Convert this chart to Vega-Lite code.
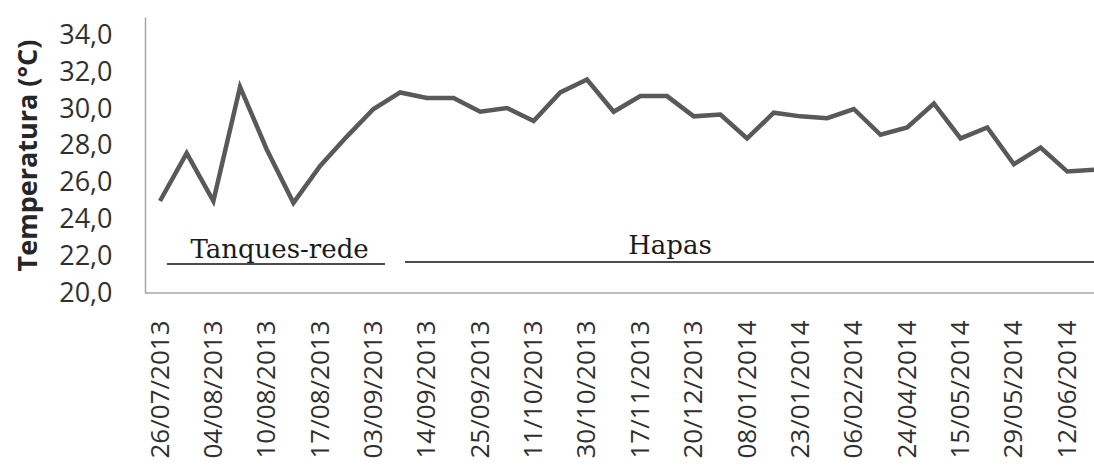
{
  "$schema": "https://vega.github.io/schema/vega-lite/v6.json",
  "width": 949,
  "height": 276,
  "autosize": "none",
  "padding": {"left": 145, "top": 17, "right": 0, "bottom": 175},
  "background": "white",
  "config": {
    "view": {"stroke": null},
    "font": "Open Sans",
    "locale": {"number": {"decimal": ",", "thousands": ".", "grouping": [3], "currency": ["", ""]}},
    "axis": {"labelOverlap": false}
  },
  "resolve": {"scale": {"x": "independent"}},
  "layer": [
    {
      "data": {
        "values": [
          {"data": "26/07/2013", "temp": 25.0},
          {"data": "30/07/2013", "temp": 27.6},
          {"data": "04/08/2013", "temp": 25.0},
          {"data": "07/08/2013", "temp": 31.2},
          {"data": "10/08/2013", "temp": 27.8},
          {"data": "14/08/2013", "temp": 24.9},
          {"data": "17/08/2013", "temp": 26.9},
          {"data": "24/08/2013", "temp": 28.5},
          {"data": "03/09/2013", "temp": 30.0},
          {"data": "09/09/2013", "temp": 30.9},
          {"data": "14/09/2013", "temp": 30.6},
          {"data": "20/09/2013", "temp": 30.6},
          {"data": "25/09/2013", "temp": 29.85},
          {"data": "04/10/2013", "temp": 30.05},
          {"data": "11/10/2013", "temp": 29.35},
          {"data": "21/10/2013", "temp": 30.9},
          {"data": "30/10/2013", "temp": 31.6},
          {"data": "08/11/2013", "temp": 29.85},
          {"data": "17/11/2013", "temp": 30.7},
          {"data": "04/12/2013", "temp": 30.7},
          {"data": "20/12/2013", "temp": 29.6},
          {"data": "30/12/2013", "temp": 29.7},
          {"data": "08/01/2014", "temp": 28.4},
          {"data": "16/01/2014", "temp": 29.8},
          {"data": "23/01/2014", "temp": 29.6},
          {"data": "30/01/2014", "temp": 29.5},
          {"data": "06/02/2014", "temp": 30.0},
          {"data": "20/02/2014", "temp": 28.6},
          {"data": "24/04/2014", "temp": 29.0},
          {"data": "08/05/2014", "temp": 30.3},
          {"data": "15/05/2014", "temp": 28.4},
          {"data": "22/05/2014", "temp": 29.0},
          {"data": "29/05/2014", "temp": 27.0},
          {"data": "05/06/2014", "temp": 27.9},
          {"data": "12/06/2014", "temp": 26.6},
          {"data": "19/06/2014", "temp": 26.7}
        ]
      },
      "mark": {"type": "line", "color": "#595959", "strokeWidth": 4.5},
      "encoding": {
        "x": {
          "field": "data",
          "type": "ordinal",
          "sort": null,
          "scale": {"type": "point", "range": [15, 949], "padding": 0},
          "axis": {
            "title": null,
            "values": ["26/07/2013", "04/08/2013", "10/08/2013", "17/08/2013", "03/09/2013", "14/09/2013", "25/09/2013", "11/10/2013", "30/10/2013", "17/11/2013", "20/12/2013", "08/01/2014", "23/01/2014", "06/02/2014", "24/04/2014", "15/05/2014", "29/05/2014", "12/06/2014"],
            "labelAngle": -90,
            "labelFontSize": 26,
            "labelColor": "#303030",
            "labelPadding": 27,
            "labelOverlap": false,
            "labelBound": false,
            "labelFlush": false,
            "ticks": false,
            "grid": false,
            "domain": false
          }
        },
        "y": {
          "field": "temp",
          "type": "quantitative",
          "scale": {"domain": [20, 35], "nice": false, "zero": false},
          "axis": {
            "title": "Temperatura (°C)",
            "values": [20, 22, 24, 26, 28, 30, 32, 34],
            "tickCount": 20,
            "format": ".1f",
            "labelFontSize": 27,
            "labelColor": "#303030",
            "labelPadding": 33,
            "labelOverlap": false,
            "labelBound": false,
            "labelFlush": false,
            "ticks": false,
            "grid": false,
            "domainColor": "#a6a6a6",
            "domainWidth": 1.5,
            "titleFontSize": 27,
            "titleFontWeight": "bold",
            "titleColor": "#262626",
            "titleAngle": -90,
            "titleX": -117,
            "titleY": 138,
            "titleAlign": "center",
            "titleBaseline": "middle"
          }
        }
      }
    },
    {
      "data": {
        "values": [
          {"grupo": "eixo", "x0": -0.562, "x1": 35, "y": 20}
        ]
      },
      "mark": {"type": "rule", "color": "#a6a6a6", "strokeWidth": 1.5},
      "encoding": {
        "x": {"field": "x0", "type": "quantitative", "scale": {"domain": [0, 35], "range": [15, 949], "nice": false, "zero": false}, "axis": null},
        "x2": {"field": "x1"},
        "y": {"field": "y", "type": "quantitative"}
      }
    },
    {
      "data": {
        "values": [
          {"grupo": "Tanques-rede", "x0": 0.26, "x1": 8.43, "y": 21.58},
          {"grupo": "Hapas", "x0": 9.18, "x1": 35, "y": 21.68}
        ]
      },
      "mark": {"type": "rule", "color": "#111111", "strokeWidth": 1.5},
      "encoding": {
        "x": {"field": "x0", "type": "quantitative", "scale": {"domain": [0, 35], "range": [15, 949], "nice": false, "zero": false}, "axis": null},
        "x2": {"field": "x1"},
        "y": {"field": "y", "type": "quantitative"}
      }
    },
    {
      "data": {
        "values": [
          {"grupo": "Tanques-rede", "x": 4.48, "y": 21.9},
          {"grupo": "Hapas", "x": 19.11, "y": 22.12}
        ]
      },
      "mark": {"type": "text", "font": "DejaVu Serif", "fontSize": 26, "color": "#1a1a1a", "align": "center", "baseline": "alphabetic"},
      "encoding": {
        "x": {"field": "x", "type": "quantitative", "scale": {"domain": [0, 35], "range": [15, 949], "nice": false, "zero": false}, "axis": null},
        "y": {"field": "y", "type": "quantitative"},
        "text": {"field": "grupo"}
      }
    }
  ]
}
